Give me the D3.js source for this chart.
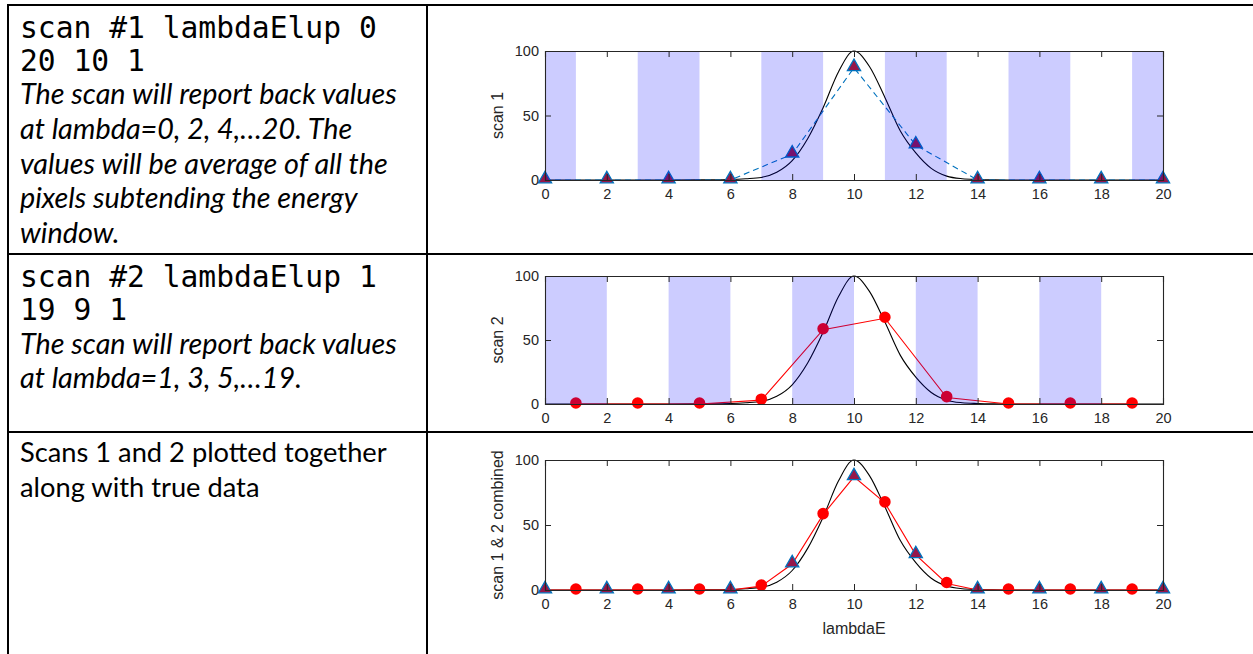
<!DOCTYPE html>
<html>
<head>
<meta charset="utf-8">
<script src="https://cdn.jsdelivr.net/npm/d3@7"></script>
<style>
  body { margin: 0; background: #fff; }
  .mono { font-family: "DejaVu Sans Mono", "Liberation Mono", monospace; fill: #000; }
  .note, .plain { font-family: Lato, "Open Sans", sans-serif; fill: #000; }
  .lab { font-family: "Liberation Sans", Arial, sans-serif; font-size: 16px; fill: #262626; }
</style>
</head>
<body>
<svg id="page" width="1253" height="654"></svg>
<script>

// tick labels
var xTicks = [0, 2, 4, 6, 8, 10, 12, 14, 16, 18, 20];
var yTicks = [0, 50, 100];

// scan 1 : lambda = 0,2,...20
var scan1X = [0, 2, 4, 6, 8, 10, 12, 14, 16, 18, 20];
var scan1Y = [0, 0, 0, 0, 20, 87, 27, 0, 0, 0, 0];

// scan 2 : lambda = 1,3,...19
var scan2X = [1, 3, 5, 7, 9, 11, 13, 15, 17, 19];
var scan2Y = [0, 0, 0, 3, 58, 67, 5, 0, 0, 0];

// true data
var trueX = [0, 1, 2, 3, 4, 5, 5.5, 6, 6.5, 7, 7.5, 8, 8.5, 9, 9.5, 10, 10.5, 11, 11.5, 12, 12.5, 13, 13.5, 14, 14.5, 15, 16, 17, 18, 19, 20];
var trueY = [0, 0, 0, 0, 0, 0.1, 0.2, 0.4, 1, 2, 6, 15, 32, 56, 84, 100, 88, 64, 38, 21, 9, 3, 1, 0.4, 0.1, 0, 0, 0, 0, 0, 0];

// energy windows (shaded)
var bands1 = [[0, 1], [3, 5], [7, 9], [11, 13], [15, 17], [19, 20]];
var bands2 = [[0, 2], [4, 6], [8, 10], [12, 14], [16, 18]];

var svg = d3.select("#page");

var x = d3.scaleLinear().domain([0, 20]).range([545, 1163]);

var trueData = trueX.map(function(d, i){ return [d, trueY[i]]; });
var scan1 = scan1X.map(function(d, i){ return [d, scan1Y[i], "tri"]; });
var scan2 = scan2X.map(function(d, i){ return [d, scan2Y[i], "dot"]; });
var both = d3.sort(scan1.concat(scan2), function(d){ return d[0]; });

var blue = "#0072bd";

// draws one matlab style panel
function panel(top, bottom, ylabel, opts){
  var y = d3.scaleLinear().domain([0, 100]).range([bottom, top]);
  var g = svg.append("g");

  var line = d3.line().x(function(d){ return x(d[0]); }).y(function(d){ return y(d[1]); });

  // true data
  g.append("path")
    .datum(trueData)
    .attr("d", line.curve(d3.curveMonotoneX))
    .attr("fill", "none")
    .attr("stroke", "#000")
    .attr("stroke-width", 1.1);
  line.curve(d3.curveLinear);

  g.append("path")
    .datum(opts.series)
    .attr("d", line)
    .attr("fill", "none")
    .attr("stroke", opts.color)
    .attr("stroke-width", 1.1)
    .attr("stroke-dasharray", opts.dash || null);

  var tri = d3.symbol().type(d3.symbolTriangle).size(75);
  var dot = d3.symbol().type(d3.symbolCircle).size(105);
  g.selectAll(".m")
    .data(opts.series)
    .enter().append("path")
    .attr("transform", function(d){ return "translate(" + x(d[0]) + "," + (y(d[1]) - 1) + ")"; })
    .attr("d", function(d){ return d[2] == "tri" ? tri() : dot(); })
    .attr("fill", function(d){ return d[2] == "tri" ? "#95174a" : "#ff0000"; })
    .attr("stroke", function(d){ return d[2] == "tri" ? blue : "none"; })
    .attr("stroke-width", 1.3);

  // shaded windows on top, transparent
  if (opts.bands){
    g.selectAll(".band")
      .data(opts.bands)
      .enter().append("rect")
      .attr("x", function(d){ return x(d[0]); })
      .attr("width", function(d){ return x(d[1]) - x(d[0]); })
      .attr("y", top)
      .attr("height", bottom - top)
      .attr("fill", "#0000ff")
      .attr("fill-opacity", 0.2);
  }

  // axes, ticks inward, box on
  var ax = svg.append("g");
  ax.append("g")
    .attr("transform", "translate(0," + bottom + ")")
    .call(d3.axisBottom(x).tickValues(xTicks).tickSize(-6).tickPadding(9));
  ax.append("g")
    .attr("transform", "translate(0," + top + ")")
    .call(d3.axisTop(x).tickValues(xTicks).tickSize(-6).tickFormat(""));
  ax.append("g")
    .attr("transform", "translate(545,0)")
    .call(d3.axisLeft(y).tickValues(yTicks).tickSize(-6).tickPadding(6));
  ax.append("g")
    .attr("transform", "translate(1163,0)")
    .call(d3.axisRight(y).tickValues(yTicks).tickSize(-6).tickFormat(""));
  ax.selectAll(".domain").attr("stroke", "#262626").attr("stroke-width", 1.1);
  ax.selectAll(".tick line").attr("stroke", "#262626");
  ax.selectAll("text")
    .attr("font-family", "Liberation Sans, Arial, sans-serif")
    .attr("font-size", 14.5)
    .attr("fill", "#262626");

  svg.append("text")
    .attr("class", "lab")
    .attr("transform", "translate(503," + ((top + bottom) / 2) + ") rotate(-90)")
    .attr("text-anchor", "middle")
    .text(ylabel);

  return y;
}

panel(51, 180, "scan 1", {series: scan1, color: blue, dash: "6,4", bands: bands1});
panel(276, 404, "scan 2", {series: scan2, color: "#ff0000", bands: bands2});
panel(460, 590, "scan 1 & 2 combined", {series: both, color: "#ff0000"});

svg.append("text")
  .attr("class", "lab")
  .attr("x", 854).attr("y", 634)
  .attr("text-anchor", "middle")
  .text("lambdaE");

// table grid
var grid = svg.append("g").attr("stroke", "#000").attr("stroke-width", 2);
grid.append("line").attr("x1", 8).attr("x2", 1253).attr("y1", 5).attr("y2", 5);
grid.append("line").attr("x1", 8).attr("x2", 1253).attr("y1", 254).attr("y2", 254);
grid.append("line").attr("x1", 8).attr("x2", 1253).attr("y1", 432).attr("y2", 432);
grid.append("line").attr("x1", 8).attr("x2", 8).attr("y1", 4).attr("y2", 654);
grid.append("line").attr("x1", 427).attr("x2", 427).attr("y1", 4).attr("y2", 654);

// left column text
function txt(cls, y, s, italic){
  return svg.append("text").attr("class", cls).attr("x", 20).attr("y", y)
    .style("font-style", italic ? "italic" : "normal").text(s);
}

// size fonts so that a reference line gets the width seen in the picture
function fit(sel, width){
  sel.style("font-size", "20px");
  var w = sel.node().getComputedTextLength();
  return 20 * width / w;
}

var m1 = txt("mono", 38, "scan #1 lambdaElup 0");
var monoSize = fit(m1, 357);
var n1 = txt("note", 104, "The scan will report back values", true);
var noteSize = fit(n1, 377);
var p1 = txt("plain", 462, "Scans 1 and 2 plotted together");
var plainSize = fit(p1, 367);

txt("mono", 71, "20 10 1");
txt("note", 139, "at lambda=0, 2, 4,\u202620. The", true);
txt("note", 174, "values will be average of all the", true);
txt("note", 208, "pixels subtending the energy", true);
txt("note", 243, "window.", true);

txt("mono", 287, "scan #2 lambdaElup 1");
txt("mono", 320, "19 9 1");
txt("note", 354, "The scan will report back values", true);
txt("note", 388, "at lambda=1, 3, 5,\u202619.", true);

txt("plain", 497, "along with true data");

svg.selectAll(".mono").style("font-size", monoSize + "px");
svg.selectAll(".note").style("font-size", noteSize + "px");
svg.selectAll(".plain").style("font-size", plainSize + "px");

</script>
</body>
</html>
